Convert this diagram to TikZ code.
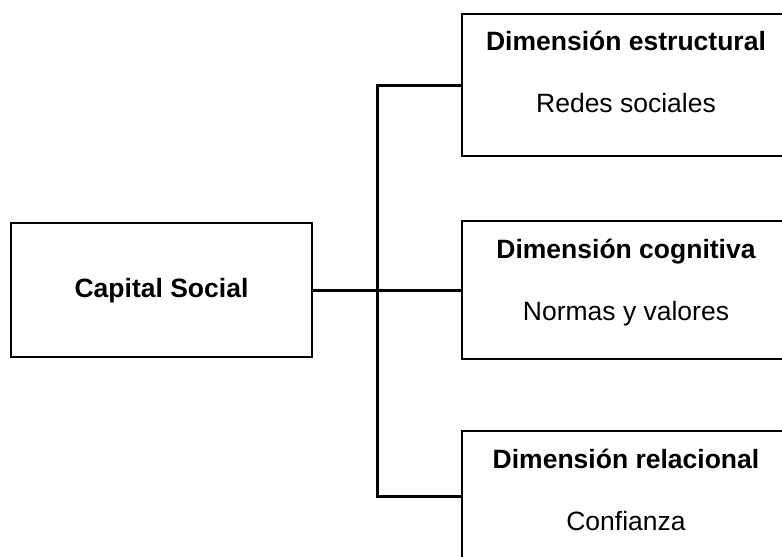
\documentclass[tikz,border=0pt]{standalone}
\usepackage{fontspec}
\setmainfont{Liberation Sans}
\begin{document}
\begin{tikzpicture}[x=1pt,y=-1pt,
  box/.style={draw=black, line width=1.8pt, fill=white, rectangle, inner sep=0pt},
  conn/.style={draw=black, line width=3pt},
  title/.style={font=\fontsize{26.5}{32}\selectfont\bfseries, anchor=base, inner sep=0pt},
  sub/.style={font=\fontsize{26.5}{32}\selectfont, anchor=base, inner sep=0pt}]
\useasboundingbox (0,0) rectangle (782,557);
\fill[white] (0,0) rectangle (782,557);
\clip (0,0) rectangle (782,557);
% boxes
\node[box, minimum width=301pt, minimum height=134pt] (cap) at (161.5,290) {};
\node[box, minimum width=328pt, minimum height=142pt] (est) at (626,85) {};
\node[box, minimum width=328pt, minimum height=138pt] (cog) at (626,290) {};
\node[box, minimum width=328pt, minimum height=130pt] (rel) at (626,496) {};
% texts
\node[title] (capt) at (161.5,297) {Capital Social};
\node[title] (estt) at (626,50) {Dimensión estructural};
\node[sub] (ests) at (626,112) {Redes sociales};
\node[title] (cogt) at (626,258) {Dimensión cognitiva};
\node[sub] (cogs) at (626,320) {Normas y valores};
\node[title] (relt) at (626,468) {Dimensión relacional};
\node[sub] (rels) at (626,530) {Confianza};
% connectors
\coordinate (bt) at (377,85);
\coordinate (bb) at (377,496);
\draw[conn] (cap.east) -- (cog.west);
\draw[conn] (est.west) -- (bt) -- (bb) -- (rel.west);
\end{tikzpicture}
\end{document}
